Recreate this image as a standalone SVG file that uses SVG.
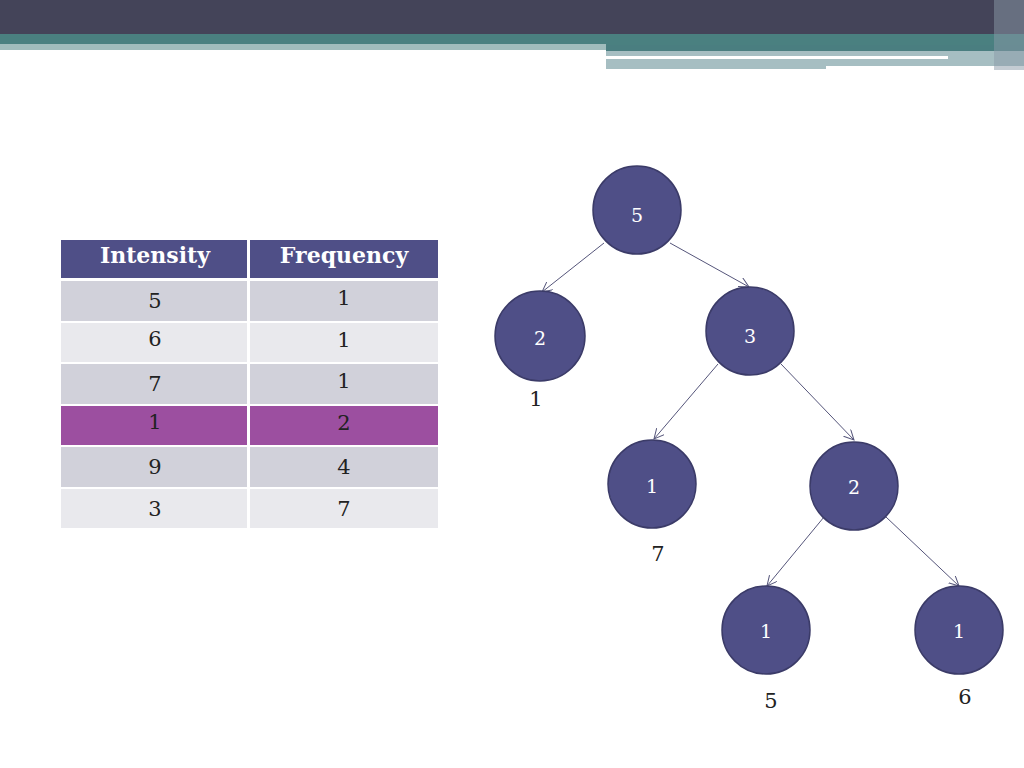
<svg xmlns="http://www.w3.org/2000/svg" width="1024" height="768" viewBox="0 0 1024 768">
<defs>
<style>
.n{fill:#4f4f87;stroke:#3b3b68;stroke-width:1.5}
.nt{fill:#fff;font-family:"DejaVu Serif",serif;font-size:19px;text-anchor:middle}
.t{fill:#222;font-family:"DejaVu Serif",serif;font-size:21px;text-anchor:middle}
.h{fill:#fff;font-family:"DejaVu Serif",serif;font-size:22px;font-weight:bold;text-anchor:middle}
.e{stroke:#55557a;stroke-width:1;fill:none;marker-end:url(#a)}
</style>
<marker id="a" markerWidth="12" markerHeight="12" refX="10" refY="5" orient="auto" markerUnits="userSpaceOnUse"><path d="M0,0 L10,5 L0,10" fill="none" stroke="#55557a"/></marker>
</defs>
<rect width="1024" height="768" fill="#fff"/>
<rect x="0" y="0" width="1024" height="34" fill="#444459"/>
<rect x="0" y="34" width="1024" height="11" fill="#4a8080"/>
<rect x="0" y="44" width="606" height="6" fill="#a0bcbc"/>
<rect x="606" y="45" width="418" height="6" fill="#4a7e80"/>
<rect x="606" y="51" width="418" height="18" fill="#a6bec2"/>
<rect x="606" y="56" width="342" height="3" fill="#fff"/>
<rect x="826" y="66" width="198" height="4" fill="#fff"/>
<rect x="994" y="0" width="30" height="70" fill="#8a9aa8" opacity="0.5"/>
<g id="table">
<rect x="61" y="240" width="186" height="38" fill="#4f4f87"/>
<rect x="250" y="240" width="188" height="38" fill="#4f4f87"/>
<text class="h" x="155" y="263">Intensity</text>
<text class="h" x="344" y="263">Frequency</text>
<g fill="#d1d1da">
<rect x="61" y="281" width="186" height="40"/><rect x="250" y="281" width="188" height="40"/>
<rect x="61" y="364" width="186" height="40"/><rect x="250" y="364" width="188" height="40"/>
<rect x="61" y="447" width="186" height="40"/><rect x="250" y="447" width="188" height="40"/>
</g>
<g fill="#e9e9ed">
<rect x="61" y="323" width="186" height="39"/><rect x="250" y="323" width="188" height="39"/>
<rect x="61" y="489" width="186" height="39"/><rect x="250" y="489" width="188" height="39"/>
</g>
<rect x="61" y="406" width="186" height="39" fill="#9c4fa0"/><rect x="250" y="406" width="188" height="39" fill="#9c4fa0"/>
<text class="t" x="155" y="308">5</text><text class="t" x="344" y="305">1</text>
<text class="t" x="155" y="346">6</text><text class="t" x="344" y="347">1</text>
<text class="t" x="155" y="391">7</text><text class="t" x="344" y="388">1</text>
<text class="t" x="155" y="429">1</text><text class="t" x="344" y="430">2</text>
<text class="t" x="155" y="474">9</text><text class="t" x="344" y="474">4</text>
<text class="t" x="155" y="516">3</text><text class="t" x="344" y="516">7</text>
</g>
<g id="connectors">
<line class="e" x1="604" y1="243" x2="542" y2="292"/>
<line class="e" x1="670" y1="243" x2="749" y2="287"/>
<line class="e" x1="718" y1="364" x2="654" y2="439"/>
<line class="e" x1="781" y1="364" x2="854" y2="440"/>
<line class="e" x1="824" y1="517" x2="767" y2="586"/>
<line class="e" x1="886" y1="517" x2="959" y2="586"/>
</g>
<g id="n5"><circle class="n" cx="637" cy="210" r="44"/><text class="nt" x="637" y="222">5</text></g>
<g id="n2a"><circle class="n" cx="540" cy="336" r="45"/><text class="nt" x="540" y="345">2</text></g>
<g id="n3"><circle class="n" cx="750" cy="331" r="44"/><text class="nt" x="750" y="343">3</text></g>
<g id="n1a"><circle class="n" cx="652" cy="484" r="44"/><text class="nt" x="652" y="493">1</text></g>
<g id="n2b"><circle class="n" cx="854" cy="486" r="44"/><text class="nt" x="854" y="494">2</text></g>
<g id="n1b"><circle class="n" cx="766" cy="630" r="44"/><text class="nt" x="766" y="638">1</text></g>
<g id="n1c"><circle class="n" cx="959" cy="630" r="44"/><text class="nt" x="959" y="638">1</text></g>
<text class="t" x="536" y="406">1</text>
<text class="t" x="658" y="561">7</text>
<text class="t" x="771" y="708">5</text>
<text class="t" x="965" y="704">6</text>
</svg>
